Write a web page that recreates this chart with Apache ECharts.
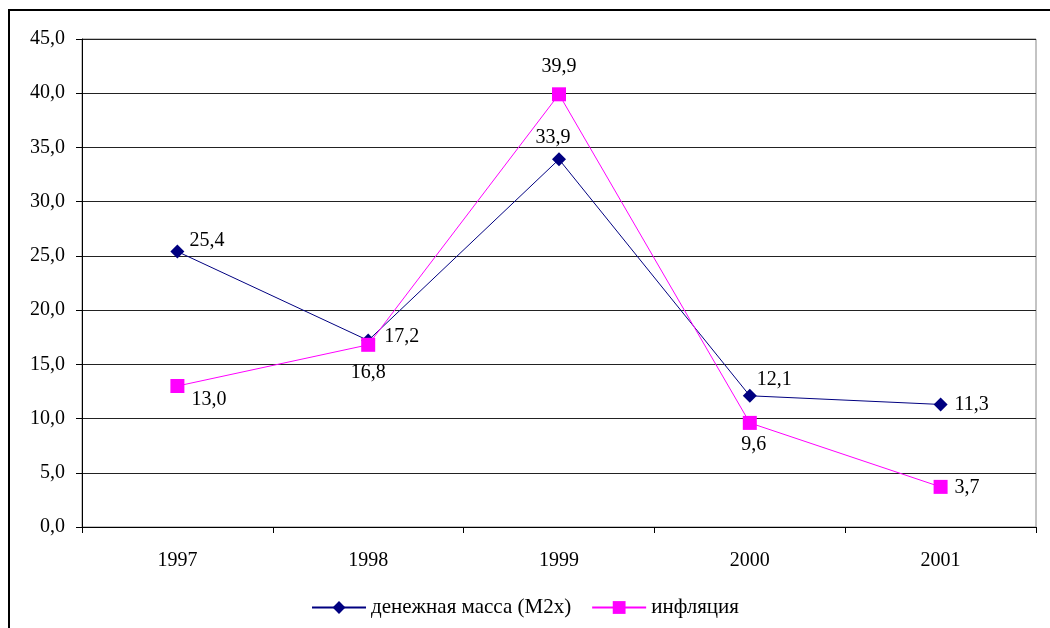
<!DOCTYPE html>
<html>
	<head>
		<meta charset="UTF-8">
		<title>Денежная масса и инфляция</title>
		<style>
			html, body { margin: 0; padding: 0; background: #fff; }
			#chart { width: 1050px; height: 628px; }
		</style>
	</head>
	<body>
		<div id="chart"></div>
	</body>
	<script src="https://cdn.jsdelivr.net/npm/echarts@6/dist/echarts.min.js" type="text/javascript" charset="utf-8"></script>
	<script type="text/javascript">
		//数据
		var years = ['1997', '1998', '1999', '2000', '2001'];
		var moneySupply = [25.4, 17.2, 33.9, 12.1, 11.3];
		var inflation = [13.0, 16.8, 39.9, 9.6, 3.7];
		var yTicks = [0, 45, 5];  // min, max, interval

		//标签位置
		var moneyLabelPos = [['right', [0, -11]], ['right', [4, -4]], ['top', [-6, 0]], ['right', [-5, -16]], ['right', [2, 0]]];
		var inflLabelPos = [['right', [2, 14]], ['bottom', [0, 6]], ['top', [0, -6]], ['bottom', [4, 0]], ['right', [2, 1]]];

		var font = '"Liberation Serif", "Times New Roman", serif';

		function fmt(v) {
			return v.toFixed(1).replace('.', ',');
		}

		function buildData(values, pos) {
			return values.map(function (v, i) {
				return {
					value: v,
					label: { position: pos[i][0], offset: pos[i][1] }
				};
			});
		}

		var chart = echarts.init(document.getElementById('chart'));

		var option = {
			animation: false,
			textStyle: { fontFamily: font, color: '#000' },
			graphic: [{
				type: 'rect',
				shape: { x: 9, y: 10, width: 1200, height: 800 },
				style: { fill: null, stroke: '#000', lineWidth: 2 },
				silent: true
			}],
			grid: { left: 82, top: 39, right: 14, bottom: 101, show: true, borderColor: '#888', borderWidth: 1 },
			legend: {
				bottom: 5,
				left: 'center',
				itemWidth: 54,
				itemHeight: 16,
				itemGap: 20,
				textStyle: { fontFamily: font, fontSize: 21, color: '#000' },
				data: ['денежная масса (M2x)', 'инфляция']
			},
			xAxis: {
				type: 'category',
				data: years,
				boundaryGap: true,
				axisLine: { lineStyle: { color: '#000', width: 1 } },
				axisTick: { show: true, length: 6, lineStyle: { color: '#000' } },
				axisLabel: { fontFamily: font, fontSize: 20, color: '#000', margin: 24 }
			},
			yAxis: {
				type: 'value',
				min: yTicks[0],
				max: yTicks[1],
				interval: yTicks[2],
				axisLine: { show: true, lineStyle: { color: '#000', width: 1 } },
				axisTick: { show: true, length: 6, lineStyle: { color: '#000' } },
				axisLabel: {
					fontFamily: font, fontSize: 20, color: '#000', margin: 17,
					formatter: function (v) { return fmt(v); }
				},
				splitLine: { show: true, lineStyle: { color: '#222', width: 1 } }
			},
			series: [{
				name: 'денежная масса (M2x)',
				type: 'line',
				data: buildData(moneySupply, moneyLabelPos),
				symbol: 'diamond',
				symbolSize: 14,
				itemStyle: { color: '#000080' },
				lineStyle: { color: '#000080', width: 1 },
				label: {
					show: true,
					fontFamily: font, fontSize: 20, color: '#000',
					formatter: function (p) { return fmt(p.value); }
				},
				z: 3
			}, {
				name: 'инфляция',
				type: 'line',
				data: buildData(inflation, inflLabelPos),
				symbol: 'rect',
				symbolSize: 14,
				itemStyle: { color: '#ff00ff' },
				lineStyle: { color: '#ff00ff', width: 1 },
				label: {
					show: true,
					fontFamily: font, fontSize: 20, color: '#000',
					formatter: function (p) { return fmt(p.value); }
				},
				z: 4
			}]
		};

		chart.setOption(option);
	</script>
</html>
